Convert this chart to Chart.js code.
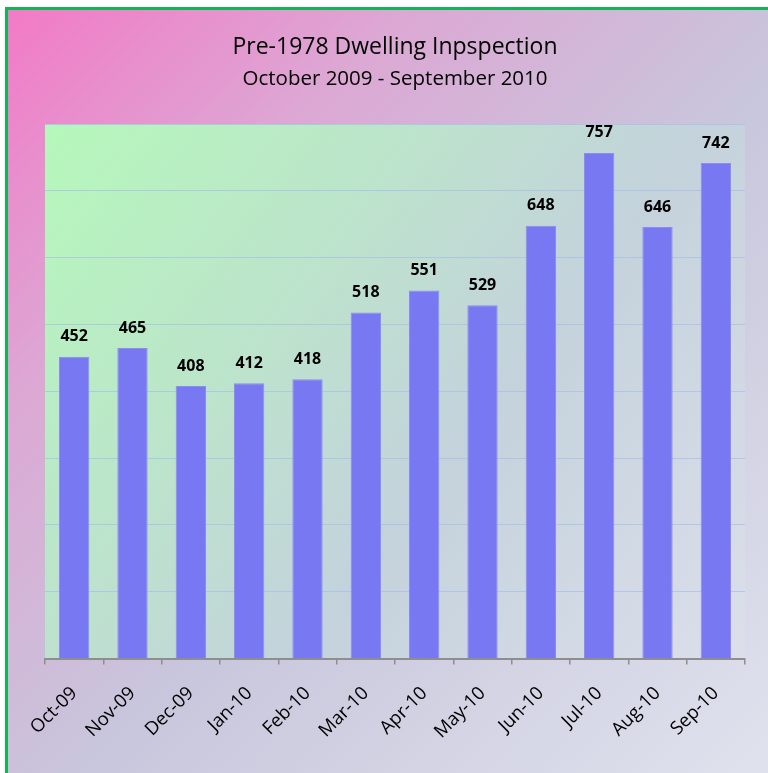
<!DOCTYPE html>
<html>
<head>
<meta charset="utf-8">
<script src="https://cdn.jsdelivr.net/npm/chart.js@4.4.0/dist/chart.umd.min.js"></script>
<style>
  html, body { margin: 0; padding: 0; }
  body { width: 768px; height: 773px; overflow: hidden; background: #ffffff; }
  #frame {
    position: absolute; left: 5px; top: 7px; width: 800px; height: 800px;
    border-top: 3px solid #12b456; border-left: 3px solid #12b456;
    background: linear-gradient(135deg, #f27ac6 0%, #dca8d4 25%, #c8c6dc 52%, #e2e5ef 100%);
  }
  #wrap { position: absolute; left: 0; top: 0; width: 768px; height: 773px; }
</style>
</head>
<body>
<div id="frame"></div>
<div id="wrap"><canvas id="canvas" width="768" height="773"></canvas></div>
<script>
var months = ['Oct-09', 'Nov-09', 'Dec-09', 'Jan-10', 'Feb-10', 'Mar-10', 'Apr-10', 'May-10', 'Jun-10', 'Jul-10', 'Aug-10', 'Sep-10'];
var inspections = [452, 465, 408, 412, 418, 518, 551, 529, 648, 757, 646, 742];
var yMax = 800;
var yStep = 100;

var fontFamily = '"Open Sans", "Liberation Sans", sans-serif';

// plot area gradient, light green top left to grey blue bottom right
var plotBackground = {
    id: 'plotBackground',
    beforeDraw: function (chart) {
        var a = chart.chartArea;
        var ctx = chart.ctx;
        var g = ctx.createLinearGradient(a.left, a.top, a.right, a.bottom);
        g.addColorStop(0, '#b6f8bb');
        g.addColorStop(0.3, '#bbe6c9');
        g.addColorStop(0.6, '#c4d2dc');
        g.addColorStop(1, '#dcdfea');
        ctx.save();
        ctx.fillStyle = g;
        ctx.fillRect(a.left, a.top, a.right - a.left, a.bottom - a.top);
        ctx.restore();
    }
};

// value labels over each bar
var valueLabels = {
    id: 'valueLabels',
    afterDatasetsDraw: function (chart) {
        var ctx = chart.ctx;
        var meta = chart.getDatasetMeta(0);
        ctx.save();
        ctx.font = 'bold 16px ' + fontFamily;
        ctx.fillStyle = '#000000';
        ctx.textAlign = 'center';
        ctx.textBaseline = 'middle';
        meta.data.forEach(function (bar, i) {
            ctx.fillText(chart.data.datasets[0].data[i], bar.x, bar.y - 20);
        });
        ctx.restore();
    }
};

var ctx = document.getElementById('canvas');
var myChart = new Chart(ctx, {
    type: 'bar',
    data: {
        labels: months,
        datasets: [{
            label: 'Inspections',
            data: inspections,
            backgroundColor: '#7878f2',
            borderColor: '#8c8cf0',
            borderWidth: 1,
            barPercentage: 0.52,
            categoryPercentage: 1
        }]
    },
    plugins: [plotBackground, valueLabels],
    options: {
        responsive: false,
        animation: false,
        devicePixelRatio: 1,
        layout: {
            padding: { left: 45, right: 23, top: 0, bottom: 12 }
        },
        plugins: {
            legend: { display: false },
            tooltip: { enabled: false },
            title: {
                display: true,
                text: 'Pre-1978 Dwelling Inpspection',
                color: '#000000',
                font: { family: fontFamily, size: 23, weight: 'normal' },
                padding: { top: 34, bottom: 5 }
            },
            subtitle: {
                display: true,
                text: 'October 2009 - September 2010',
                color: '#000000',
                font: { family: fontFamily, size: 20.5, weight: 'normal' },
                padding: { top: 0, bottom: 33 }
            }
        },
        scales: {
            x: {
                offset: true,
                grid: {
                    offset: true,
                    drawOnChartArea: false,
                    color: '#8e8e8e',
                    tickLength: 6,
                    lineWidth: 1.5
                },
                border: { color: '#8e8e8e', width: 2 },
                ticks: {
                    color: '#000000',
                    font: { family: fontFamily, size: 18.5 },
                    minRotation: 45,
                    maxRotation: 45,
                    padding: 18
                }
            },
            y: {
                min: 0,
                max: yMax,
                ticks: { display: false, stepSize: yStep },
                grid: { color: 'rgba(165, 190, 232, 0.7)', drawTicks: false },
                border: { display: false }
            }
        }
    }
});
</script>
</body>
</html>
